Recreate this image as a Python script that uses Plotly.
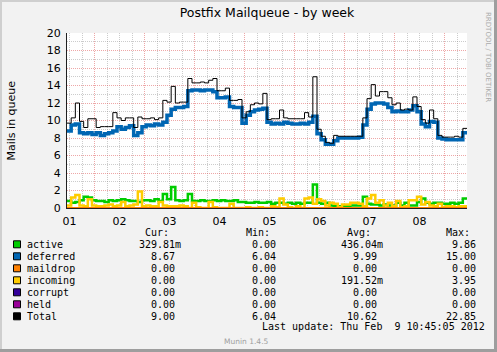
import plotly.graph_objects as go

# ---------------- data (2-hour bins over the week window) ----------------
START_HOUR = 10.75          # window starts Feb 1, 10:45
SPAN_H = 192                # 8 days shown
BIN_H = 2
DAY_LABELS = ["01", "02", "03", "04", "05", "06", "07", "08"]

deferred = [8.8, 9.5, 9.6, 8.6, 8.5, 8.6, 8.4, 8.6, 8.3, 8.5, 8.6, 8.8,
            9.3, 9.0, 9.2, 9.4, 8.3, 8.6, 9.3, 9.5, 9.4, 9.6, 9.5, 9.8,
            10.6, 11.3, 11.5, 11.5, 11.6, 13.4, 13.5, 13.5, 13.4, 13.5, 13.5, 13.3,
            12.6, 12.6, 12.7, 11.6, 11.5, 11.5, 9.7, 10.6, 11.0, 11.2, 11.3, 11.4,
            9.8, 9.6, 9.7, 9.6, 9.8, 9.7, 9.6, 9.6, 9.7, 9.6, 9.8, 10.5,
            8.5, 7.8, 7.3, 7.3, 7.7, 8.0, 8.0, 8.0, 8.0, 8.0, 8.1, 9.5,
            11.3, 11.9, 12.0, 12.0, 11.9, 11.5, 11.0, 11.1, 11.0, 11.0, 11.2, 11.7,
            11.0, 9.6, 9.3, 9.9, 9.8, 8.0, 7.9, 7.8, 7.8, 7.8, 7.8, 8.6]

total = [9.7, 10.3, 12.0, 9.9, 9.2, 10.2, 10.2, 9.2, 9.3, 9.3, 9.3, 10.9,
         10.3, 10.0, 10.3, 10.3, 9.2, 10.4, 10.2, 10.2, 10.3, 10.1, 10.3, 12.3,
         12.1, 13.9, 12.0, 12.1, 12.1, 14.8, 14.3, 14.3, 14.4, 14.3, 14.6, 14.8,
         13.4, 13.4, 13.7, 12.3, 12.3, 12.4, 10.3, 11.0, 11.8, 12.0, 11.9, 13.1,
         10.1, 10.2, 10.2, 11.2, 10.3, 10.2, 10.2, 10.2, 10.2, 10.9, 10.4, 15.0,
         9.0, 8.2, 7.5, 7.4, 8.3, 8.2, 8.2, 8.2, 8.2, 8.2, 8.2, 10.3,
         12.5, 14.1, 12.8, 13.3, 13.3, 12.6, 11.8, 12.0, 11.2, 11.3, 11.2, 12.7,
         11.6, 10.1, 9.7, 11.2, 10.2, 8.3, 8.1, 8.1, 8.1, 8.2, 8.1, 9.1]

active = [0.8, 0.6, 0.7, 0.9, 1.3, 1.2, 0.9, 0.8, 0.8, 0.7, 0.9, 0.8,
          0.9, 1.0, 0.9, 0.8, 0.8, 0.7, 0.9, 0.9, 0.8, 1.0, 0.8, 1.6,
          1.0, 2.4, 0.9, 0.8, 0.9, 1.6, 0.8, 0.8, 0.9, 0.8, 0.8, 0.9,
          0.8, 0.9, 0.8, 0.8, 0.9, 0.7, 0.7, 0.6, 0.6, 0.7, 0.6, 0.6,
          0.7, 0.5, 0.6, 0.6, 0.5, 0.6, 0.5, 0.6, 0.5, 0.6, 0.6, 2.7,
          0.6, 0.5, 0.6, 0.3, 0.2, 0.2, 0.2, 0.2, 0.3, 0.3, 0.3, 1.3,
          0.5, 0.4, 0.4, 0.3, 0.4, 0.3, 0.3, 0.6, 0.3, 0.6, 0.3, 0.3,
          0.7, 1.1, 0.6, 0.5, 0.6, 0.6, 0.5, 0.5, 0.6, 0.5, 0.6, 1.1]

incoming = [0.3, 1.2, 1.5, 0.3, 0.2, 1.0, 0.3, 0.2, 0.2, 0.3, 0.4, 0.2,
            0.3, 0.7, 0.2, 0.3, 0.4, 1.9, 0.2, 0.3, 0.2, 0.2, 0.7, 0.3,
            0.2, 0.2, 0.2, 0.3, 0.2, 0.0, 0.6, 0.1, 0.0, 0.0, 0.7, 0.1,
            0.0, 0.0, 0.0, 0.5, 0.0, 0.0, 0.0, 0.1, 0.0, 0.0, 0.1, 0.0,
            0.0, 0.2, 0.1, 1.1, 0.4, 0.1, 0.0, 0.2, 0.0, 1.1, 1.2, 0.5,
            1.0, 0.8, 0.3, 0.6, 0.5, 0.1, 0.4, 0.4, 0.6, 0.6, 0.5, 0.2,
            1.1, 1.5, 0.6, 0.9, 0.3, 0.6, 0.2, 0.8, 0.1, 0.2, 0.9, 0.9,
            1.3, 0.4, 0.7, 0.3, 0.2, 0.5, 0.1, 0.2, 0.2, 0.1, 0.2, 0.2]

# these three series are flat zero over the whole week (legend: max 0.00)
maildrop = [0.0] * len(deferred)
corrupt = [0.0] * len(deferred)
held = [0.0] * len(deferred)

NAMES = ["active", "deferred", "maildrop", "incoming", "corrupt", "held", "Total"]
COLORS = ["#00CC00", "#0066B3", "#FF8000", "#FFCC00", "#330099", "#990099", "#000000"]
CUR = ["329.81m", "8.67", "0.00", "0.00", "0.00", "0.00", "9.00"]
MIN = ["0.00", "6.04", "0.00", "0.00", "0.00", "0.00", "6.04"]
AVG = ["436.04m", "9.99", "0.00", "191.52m", "0.00", "0.00", "10.62"]
MAX = ["9.86", "15.00", "0.00", "3.95", "0.00", "0.00", "22.85"]
HEADERS = ["Cur:", "Min:", "Avg:", "Max:"]
LAST_UPDATE = "Last update: Thu Feb  9 10:45:05 2012"
Y_TITLE = "Mails in queue"

# ---------------- layout geometry ----------------
W, H = 497, 352
L, R, T, B = 67, 467, 33, 208
Y_MAX = 20

BACK = "#F2F2F2"
SHADEA = "#CFCFCF"
SHADEB = "#9E9E9E"
GRID = "rgba(143,143,143,0.45)"
MGRID = "rgba(222,79,79,0.5)"
AXIS = "#1F1F1F"
ARROW = "#801F1F"
SANS = "DejaVu Sans"
MONO = "DejaVu Sans Mono"


def px(x):
    return (x - L) / (R - L)


def py(y):
    return (B - y) / (B - T)


series = {"active": active, "deferred": deferred, "maildrop": maildrop,
          "incoming": incoming, "corrupt": corrupt, "held": held, "Total": total}
widths = {"active": 2.5, "deferred": 3.5, "maildrop": 2, "incoming": 2.5,
          "corrupt": 2, "held": 2, "Total": 1}

t = [i * BIN_H for i in range(len(deferred))] + [SPAN_H]

fig = go.Figure()
for name, color in zip(NAMES, COLORS):
    vals = series[name]
    fig.add_trace(go.Scatter(
        x=t, y=vals + [vals[-1]], mode="lines",
        xaxis="x2" if name == "maildrop" else "x",
        line=dict(color=color, width=widths[name], shape="hv"),
        showlegend=False, hoverinfo="skip"))

# axis arrows
fig.add_trace(go.Scatter(x=[0], y=[Y_MAX + 0.45], mode="markers",
                         marker=dict(symbol="triangle-up", size=7, color=ARROW),
                         cliponaxis=False, showlegend=False, hoverinfo="skip"))
fig.add_trace(go.Scatter(x=[SPAN_H + 2.2], y=[0], mode="markers",
                         marker=dict(symbol="triangle-right", size=7, color=ARROW),
                         cliponaxis=False, showlegend=False, hoverinfo="skip"))

midnight = 24 - START_HOUR
noon_ticks = [12 - START_HOUR + 24 * k for k in range(len(DAY_LABELS))]
dash = "1px,1px"

fig.update_layout(
    width=W, height=H,
    margin=dict(l=L, r=W - R, t=T, b=H - B, pad=0),
    paper_bgcolor=BACK, plot_bgcolor="#FFFFFF",
    font=dict(family=SANS, size=11, color="#000000"),
    title=dict(text="Postfix Mailqueue - by week", x=0.5, xref="paper",
               xanchor="center", y=1 - 13 / H, yanchor="middle",
               font=dict(family=SANS, size=12.5, color="#000000")),
    xaxis=dict(range=[0, SPAN_H], tickmode="linear", tick0=midnight, dtick=24,
               showgrid=True, gridcolor=MGRID, griddash=dash, gridwidth=1,
               showticklabels=False, ticks="", zeroline=False,
               showline=True, linecolor=AXIS, linewidth=1,
               minor=dict(tick0=midnight, dtick=6, showgrid=True,
                          gridcolor=GRID, griddash=dash, gridwidth=1)),
    xaxis2=dict(overlaying="x", matches="x", side="bottom",
                tickmode="array", tickvals=noon_ticks, ticktext=DAY_LABELS,
                showgrid=False, zeroline=False, showline=False, ticks="outside",
                ticklen=3, tickcolor="rgba(0,0,0,0)",
                tickfont=dict(family=SANS, size=11, color="#000000")),
    yaxis=dict(range=[0, Y_MAX], tickmode="linear", tick0=0, dtick=2,
               showgrid=True, gridcolor=MGRID, griddash=dash, gridwidth=1,
               zeroline=False, showline=True, linecolor=AXIS, linewidth=1,
               ticks="outside", ticklen=3, tickcolor="rgba(0,0,0,0)",
               tickfont=dict(family=SANS, size=11, color="#000000"),
               minor=dict(dtick=1, showgrid=True, gridcolor=GRID,
                          griddash=dash, gridwidth=1)),
)

shapes = []
# 3D border of the image
shapes.append(dict(type="line", xref="paper", yref="paper", x0=px(0), x1=px(W),
                   y0=py(1), y1=py(1), line=dict(color=SHADEA, width=2)))
shapes.append(dict(type="line", xref="paper", yref="paper", x0=px(1), x1=px(1),
                   y0=py(0), y1=py(H), line=dict(color=SHADEA, width=2)))
shapes.append(dict(type="line", xref="paper", yref="paper", x0=px(0), x1=px(W),
                   y0=py(H - 1.5), y1=py(H - 1.5), line=dict(color=SHADEB, width=3)))
shapes.append(dict(type="line", xref="paper", yref="paper", x0=px(W - 1.5), x1=px(W - 1.5),
                   y0=py(0), y1=py(H), line=dict(color=SHADEB, width=3)))

annotations = []


def note(text, x, y, anchor="left", family=MONO, size=10, color="#000000", angle=0):
    annotations.append(dict(text=text.replace(" ", "\u00a0"), x=px(x), y=py(y),
                            xref="paper", yref="paper", xanchor=anchor,
                            yanchor="middle", showarrow=False, textangle=angle,
                            borderpad=0, borderwidth=0,
                            font=dict(family=family, size=size, color=color)))


CH = 6.02
FIELD_X = [139.3, 239.7, 340.7, 439.7]
ROW0, ROW_H = 244.3, 12.0

for h, fx in zip(HEADERS, FIELD_X):
    note(h, fx + CH, 232.3)

for k, (name, color) in enumerate(zip(NAMES, COLORS)):
    yc = ROW0 + ROW_H * k
    shapes.append(dict(type="rect", xref="paper", yref="paper",
                       x0=px(13.5), x1=px(20.5), y0=py(yc + 3.5), y1=py(yc - 3.5),
                       fillcolor=color, line=dict(color="#000000", width=1)))
    note(name, 26.7, yc)
    for col, fx in zip((CUR, MIN, AVG, MAX), FIELD_X):
        v = col[k]
        num, suf = (v[:-1], v[-1]) if v[-1].isalpha() else (v, "")
        note(num.rjust(6) + suf, fx, yc)

note(LAST_UPDATE, 261.7, 326.7)
note("Munin 1.4.5", 246.5, 341, anchor="center", family=SANS, size=7.5, color="#A0A0A0")
note("RRDTOOL / TOBI OETIKER", 487.5, 56.5, anchor="center", family=SANS,
     size=7, color="#AAAAAA", angle=90)
note(Y_TITLE, 11, (T + B) / 2, anchor="center", family=SANS, size=11, angle=-90)

fig.update_layout(shapes=shapes, annotations=annotations)
fig.write_html("out.html")
